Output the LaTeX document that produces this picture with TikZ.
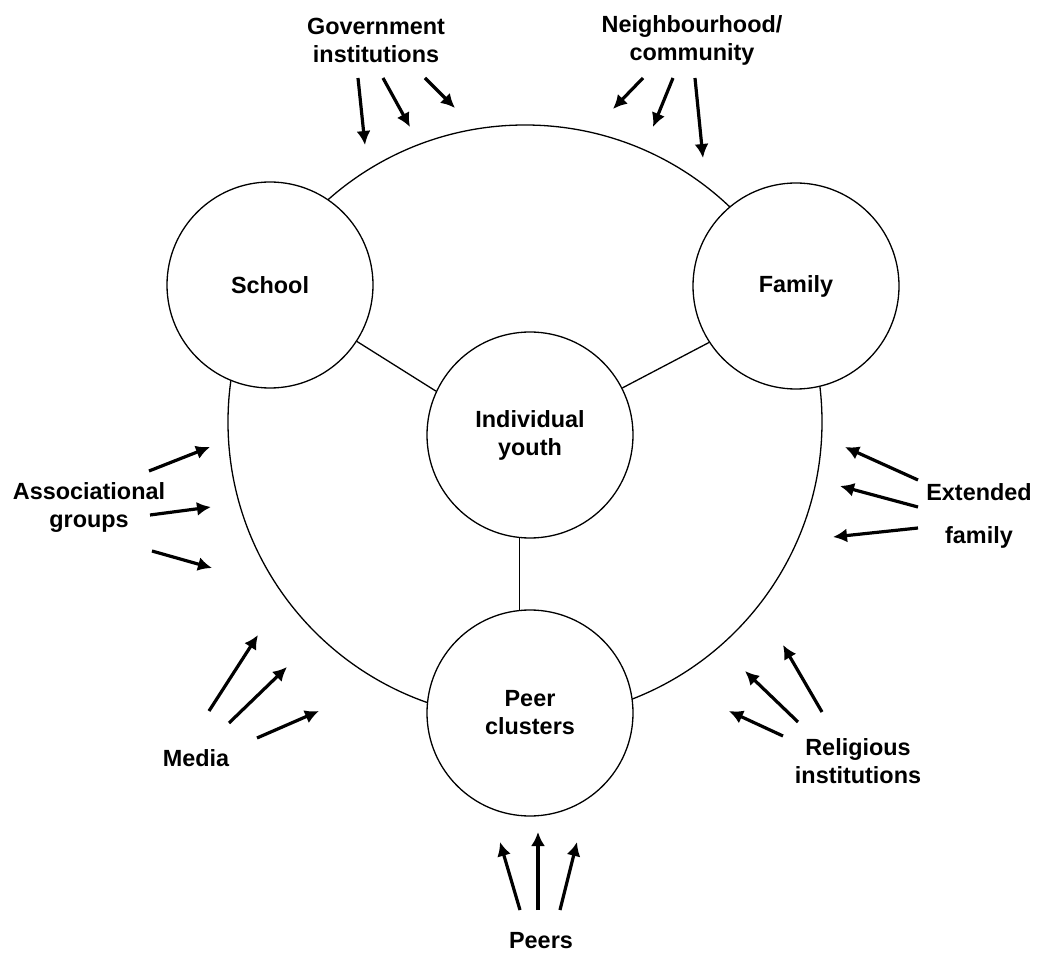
\documentclass[tikz,border=0pt]{standalone}
\usepackage{fontspec}
\setmainfont{Liberation Sans}
\usetikzlibrary{arrows.meta}

\tikzset{
  sphere/.style={circle, draw, line width=1.3pt, fill=white, minimum size=206pt,
    inner sep=0pt, align=center, font=\fontsize{23.4}{28}\selectfont\bfseries},
  ringline/.style={circle, draw, line width=1.3pt, minimum size=594pt, inner sep=0pt},
  srctext/.style={inner sep=0pt, align=center, font=\fontsize{23.4}{28}\selectfont\bfseries},
  link/.style={line width=1.3pt},
  push/.style={line width=3.2pt, -{Latex[length=14pt,width=14pt]}}
}

\begin{document}
\begin{tikzpicture}[x=1pt, y=-1pt]
  \useasboundingbox (0,0) rectangle (1037,957);

  % outer ring that joins the three settings
  \node[ringline] (ring) at (525,422) {};

  % settings around the youth
  \node[sphere] (school) at (270,285) {School};
  \node[sphere] (family) at (796,286) {Family};
  \node[sphere] (youth)  at (530,435) {Individual\\youth};
  \node[sphere] (peer)   at (530,713) {Peer\\clusters};

  \draw[link] (school.-33) -- (youth.155);
  \draw[link] (family.213) -- (youth.27);
  \draw[link] (youth.264) -- (peer.96);

  % outside influences
  \node[srctext] (gov)   at (376,40)  {Government\\institutions};
  \node[srctext] (hood)  at (692,40)  {Neighbourhood/\\community};
  \node[srctext] (assoc) at (89,508)  {Associational\\groups};
  \node[srctext] (media) at (196,758) {Media};
  \node[srctext] (ext1)  at (979,492) {Extended};
  \node[srctext] (ext2)  at (979,537) {family};
  \node[srctext] (relig) at (858,761) {Religious\\institutions};
  \node[srctext] (peers) at (541,941) {Peers};

  % arrow ends
  \coordinate (g1a) at (358,78);  \coordinate (g1b) at (365,145);
  \coordinate (g2a) at (383,78);  \coordinate (g2b) at (410,127);
  \coordinate (g3a) at (425,78);  \coordinate (g3b) at (455,108);

  \coordinate (n1a) at (643,78);  \coordinate (n1b) at (613,109);
  \coordinate (n2a) at (673,78);  \coordinate (n2b) at (653,127);
  \coordinate (n3a) at (695,78);  \coordinate (n3b) at (703,158);

  \coordinate (a1a) at (149,471); \coordinate (a1b) at (210,447);
  \coordinate (a2a) at (150,515); \coordinate (a2b) at (211,507);
  \coordinate (a3a) at (152,551); \coordinate (a3b) at (212,568);

  \coordinate (m1a) at (209,711); \coordinate (m1b) at (258,635);
  \coordinate (m2a) at (229,723); \coordinate (m2b) at (287,667);
  \coordinate (m3a) at (257,738); \coordinate (m3b) at (319,711);

  \coordinate (e1a) at (918,480); \coordinate (e1b) at (845,447);
  \coordinate (e2a) at (918,507); \coordinate (e2b) at (840,486);
  \coordinate (e3a) at (918,528); \coordinate (e3b) at (833,537);

  \coordinate (r1a) at (783,736); \coordinate (r1b) at (729,711);
  \coordinate (r2a) at (798,722); \coordinate (r2b) at (745,671);
  \coordinate (r3a) at (822,712); \coordinate (r3b) at (783,645);

  \coordinate (p1a) at (520,910); \coordinate (p1b) at (500,842);
  \coordinate (p2a) at (538,910); \coordinate (p2b) at (538,832);
  \coordinate (p3a) at (560,910); \coordinate (p3b) at (577,842);

  \foreach \s in {g,n,a,m,e,r,p}{
    \foreach \k in {1,2,3}{
      \draw[push] (\s\k a) -- (\s\k b);
    }
  }
\end{tikzpicture}
\end{document}
